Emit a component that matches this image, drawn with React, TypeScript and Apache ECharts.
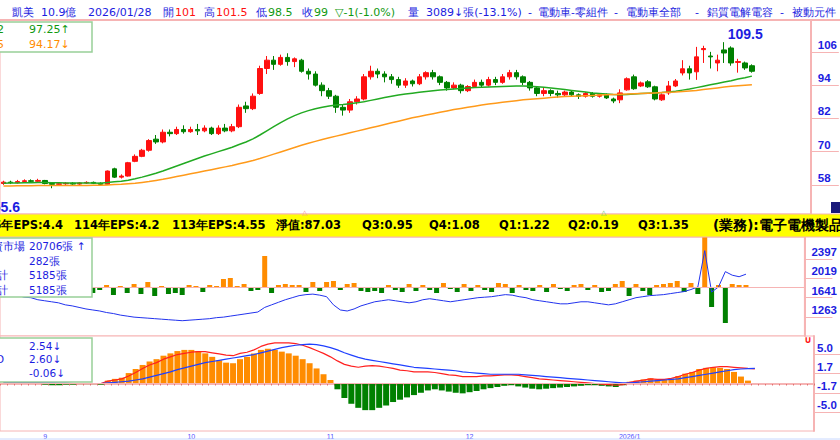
import React, { useEffect, useRef } from "react";
import * as echarts from "echarts";

const dates = [
  "08/22","08/25","08/26","08/27","08/28","08/29",
  "09/01","09/02","09/03","09/04","09/05","09/08","09/09","09/10","09/11","09/12","09/15","09/16","09/17","09/18","09/19","09/22","09/23","09/24","09/25","09/26","09/30",
  "10/01","10/02","10/03","10/07","10/08","10/09","10/13","10/14","10/15","10/16","10/17","10/20","10/21","10/22","10/23","10/27","10/28","10/29","10/30","10/31",
  "11/03","11/04","11/05","11/06","11/07","11/10","11/11","11/12","11/13","11/14","11/17","11/18","11/19","11/20","11/21","11/24","11/25","11/26","11/27","11/28",
  "12/01","12/02","12/03","12/04","12/05","12/08","12/09","12/10","12/11","12/12","12/15","12/16","12/17","12/18","12/19","12/22","12/23","12/24","12/25","12/26","12/29","12/30","12/31",
  "01/02","01/05","01/06","01/07","01/08","01/09","01/12","01/13","01/14","01/15","01/16","01/19","01/20","01/21","01/22","01/23","01/26","01/27","01/28",
];
const blankSlots = ["", "", "", "", "", "", "", ""];
const monthLabels: Record<string, string> = { "09/01": "9", "10/01": "10", "11/03": "11", "12/01": "12", "01/02": "2026/1" };

// [open, close, low, high]
const ohlc = [
  [58.5,59,58,59.5],[59,58.8,58.3,59.5],[58.8,59.2,58.5,59.8],[59.2,59.5,58.8,60],[59.5,59.3,59,60],[59.3,59.6,59,60.2],[59.6,58.5,58.2,59.8],[58.5,58.2,56.8,58.8],[58.2,58.4,57.8,58.8],[58.4,58.6,58,59],
  [58.6,58.3,58,59],[58.3,58.7,58,59],[58.7,58.9,58.4,59.3],[58.9,58.6,58.3,59.2],[58.6,58.2,57.9,58.9],[58.2,63,58,63.2],[63.8,60.8,60.5,64.2],[60.8,61.2,60.3,61.8],[61.2,66,61,66.3],[66.5,68.3,66.2,69],
  [68.3,70.5,68,71],[70.5,74,70,74.5],[74.5,73.5,72.8,76],[73.5,77,73,78],[77,76.5,75.5,78],[76.5,78,76,79],[78,77.2,76.5,79.5],[77.2,78,76.8,79],[78,77.5,76,80],[77.5,78.5,77,79.5],
  [78.5,76.5,76,79],[76.5,78.5,76,79.5],[78.5,77.5,77,80],[77.5,79,77,80],[79,86,78.5,87],[86.5,85.5,84,88],[85.5,90,85,91],[91,100,90.5,101],[100,103,98,104.5],[103,101.5,99.5,104.5],
  [101.5,104,101,105],[104,102.5,101,105.5],[102.5,103.5,100.5,104],[103,99,98.5,103.5],[99,98,96,100],[98,94,93.5,99],[94,92,90,95],[92,90,89,93],[90,86,84,90.5],[86,85,83,87],
  [85,88,84,89],[88,89,87,90],[89,97,88.5,98],[97,99,96,101],[99,98,96.5,100],[98,97,95,99],[97,96,94.5,98],[96,94,93,97],[94,95.5,93,96.5],[95.5,94.5,93.5,96],
  [94.5,97,94,98],[97,98.5,96,99],[98.5,97,96,99.5],[97,95,94,97.5],[95,93,92,95.5],[93,94,92.5,95],[94,92,91,94.5],[92,93.5,91.5,94],[93.5,95,93,96],[95,94,93,96],
  [94,96,93.5,97],[96,95,94,97],[95,97,94.5,98],[97,98.5,96,99.5],[98.5,97,96,99.5],[97,95,94,97.5],[95,93,92,95.5],[93,91,90,93.5],[91,92,90,93],[92,91,90,92.5],
  [91,90.5,89.5,92],[90.5,91.5,90,92],[91.5,90.5,90,92],[90.5,90,89,91],[90,91,89.5,91.5],[91,90,89.5,91.5],[90,90.5,89.5,91],[90.5,89.4,89,91],[89,88.3,87.5,89.5],[88.7,91.2,87.5,92.5],
  [92.3,96.3,92,96.8],[97,92.7,92.3,97.8],[93.7,94.8,93.3,95.3],[95.2,93.4,93,95.8],[93.4,89,88.5,93.8],[88.7,90.5,88.3,91],[91.2,93.7,90.5,95.5],[93.7,95.5,93.3,96.2],[98.4,99.9,97.5,103],[99.9,98.4,96,101],
  [98.8,104.2,95.9,107.8],[106.8,107.2,102,108.2],[104.5,104.2,100,106],[102,103,99,105],[106.7,105.6,102,109.5],[107.4,102,101,108],[102.2,102.5,98.5,103.5],[102,100.2,99.5,102.5],[101,99,98.5,101.5],
];

const maShort = [
  58.6,58.7,58.7,58.8,58.8,58.9,58.9,58.8,58.8,58.7,
  58.7,58.7,58.7,58.7,58.6,58.9,59.1,59.3,59.7,60.2,
  60.8,61.5,62.2,63.0,63.9,64.8,65.7,66.6,67.5,68.4,
  69.2,70.0,70.8,71.6,72.6,73.5,74.6,76.0,77.5,79.0,
  80.5,81.8,83.0,84.0,84.8,85.5,86.0,86.5,86.8,87.0,
  87.3,87.6,88.0,88.5,89.0,89.5,90.0,90.4,90.8,91.1,
  91.4,91.7,92.0,92.2,92.4,92.6,92.8,93.0,93.1,93.2,
  93.3,93.4,93.5,93.6,93.7,93.7,93.6,93.4,93.2,93.0,
  92.7,92.4,92.1,91.8,91.5,91.2,91.0,90.8,90.6,90.5,
  90.6,90.8,91.0,91.1,91.2,91.3,91.5,91.8,92.2,92.6,
  93.1,93.6,94.1,94.6,95.1,95.6,96.2,96.7,97.25,
];
const maLong = [
  57.6,57.6,57.7,57.7,57.7,57.8,57.8,57.8,57.8,57.8,
  57.8,57.8,57.8,57.9,57.9,58.0,58.1,58.2,58.4,58.6,
  58.9,59.2,59.6,60.0,60.5,61.0,61.5,62.0,62.5,63.0,
  63.5,64.0,64.5,65.0,65.6,66.2,66.8,67.5,68.3,69.1,
  69.9,70.7,71.5,72.3,73.0,73.7,74.4,75.0,75.6,76.2,
  76.8,77.4,78.0,78.6,79.2,79.8,80.4,81.0,81.6,82.2,
  82.7,83.2,83.7,84.2,84.7,85.2,85.6,86.0,86.4,86.8,
  87.2,87.5,87.8,88.1,88.4,88.7,88.9,89.1,89.3,89.5,
  89.7,89.9,90.0,90.1,90.2,90.3,90.4,90.5,90.6,90.7,
  90.8,90.9,91.0,91.1,91.2,91.3,91.4,91.5,91.7,91.9,
  92.1,92.4,92.7,93.0,93.3,93.6,93.8,94.0,94.17,
];

const chipBars = [
  1,-3,2,-4,1,-2,-5,2,-3,1,
  -2,2,-4,-6,-3,2,-8,1,-6,3,
  -7,5,-9,1,-7,-6,-8,2,1,-5,
  2,1,8,9,1,3,-4,-3,31,-6,
  2,3,2,2,-5,5,-4,5,6,-3,
  3,4,-4,-5,-4,-6,2,-3,-5,3,
  -4,2,-3,-6,4,-2,-5,3,-4,2,
  -3,-5,4,3,-6,2,-3,-4,2,-5,
  3,-2,-4,2,3,-3,2,-5,-4,3,
  6,-9,3,-4,-8,2,3,4,6,-5,
  4,-7,50,-20,2,-36,3,2,2,
];
const chipLine = [
  1700,1720,1690,1650,1640,1600,1580,1560,1540,1500,
  1480,1450,1420,1400,1380,1350,1330,1300,1280,1260,
  1250,1240,1230,1220,1210,1200,1190,1200,1210,1220,
  1230,1250,1260,1280,1300,1320,1340,1360,1450,1500,
  1550,1600,1640,1680,1700,1710,1690,1660,1500,1400,
  1380,1420,1480,1520,1560,1580,1600,1580,1560,1540,
  1560,1600,1620,1600,1580,1560,1580,1600,1620,1640,
  1650,1660,1680,1700,1690,1660,1640,1600,1580,1560,
  1540,1520,1520,1540,1560,1560,1540,1520,1500,1520,
  1560,1600,1640,1660,1680,1690,1700,1720,1740,1760,
  1800,1850,2560,1750,1850,2150,2080,2050,2100,
];

const macdHist = [
  0,0.1,0.1,0.1,0.1,0.1,-0.2,-0.3,-0.3,-0.2,
  -0.2,-0.1,-0.1,-0.1,-0.2,0.5,0.8,1.0,1.8,2.5,
  3.2,3.8,4.2,4.8,5.2,5.6,5.8,5.8,5.6,5.2,
  4.6,4.0,3.6,3.5,4.2,4.6,5.2,5.8,6.0,5.8,
  5.5,5.2,4.8,4.2,3.5,2.6,1.6,0.6,-1.0,-2.5,
  -3.5,-4.2,-4.6,-4.6,-4.2,-3.8,-3.2,-2.8,-2.4,-2.0,
  -1.6,-1.2,-1.0,-1.2,-1.4,-1.6,-1.7,-1.5,-1.3,-1.0,
  -0.8,-0.6,-0.4,-0.3,-0.5,-0.7,-0.9,-1.0,-0.9,-0.8,
  -0.7,-0.6,-0.5,-0.4,-0.3,-0.3,-0.4,-0.5,-0.6,-0.3,
  0.3,0.5,0.7,0.9,0.7,0.6,0.9,1.3,1.7,2.0,
  2.5,2.7,2.8,2.7,2.5,2.0,1.2,0.5,-0.06,
];
const difLine = [
  0.1,0.1,0.1,0.1,0.1,0.1,0,0,0,0,
  0,0,0,0,0,0.4,0.6,0.8,1.3,1.9,
  2.6,3.2,3.6,4.2,4.6,5.0,5.2,5.4,5.5,5.5,
  5.3,5.1,4.9,4.8,5.2,5.4,5.8,6.4,6.8,7.0,
  7.0,7.0,6.9,6.6,6.2,5.7,5.2,4.6,3.9,3.3,
  3.0,2.8,3.0,3.1,3.0,2.8,2.6,2.3,2.2,2.0,
  2.0,2.0,1.9,1.7,1.5,1.4,1.2,1.2,1.2,1.3,
  1.3,1.4,1.5,1.5,1.4,1.2,1.0,0.8,0.7,0.6,
  0.5,0.4,0.3,0.2,0.1,0,-0.1,-0.2,-0.3,-0.2,
  0.2,0.4,0.6,0.8,0.7,0.7,0.9,1.2,1.6,1.9,
  2.3,2.6,2.8,2.9,2.9,2.8,2.7,2.6,2.54,
];
const deaLine = [
  0.1,0.1,0.1,0.1,0.1,0.1,0.1,0.1,0.05,0.05,
  0,0,0,0,0,0.1,0.2,0.3,0.4,0.6,
  0.8,1.1,1.4,1.7,2.0,2.4,2.7,3.0,3.3,3.6,
  3.8,4.0,4.2,4.4,4.6,4.8,5.0,5.3,5.6,5.9,
  6.2,6.4,6.6,6.7,6.8,6.7,6.5,6.2,5.8,5.3,
  4.9,4.5,4.2,4.0,3.8,3.6,3.4,3.2,3.0,2.8,
  2.7,2.6,2.5,2.4,2.3,2.2,2.0,1.9,1.8,1.7,
  1.6,1.6,1.6,1.6,1.6,1.5,1.4,1.3,1.2,1.1,
  1.0,0.9,0.8,0.7,0.6,0.5,0.4,0.3,0.2,0.1,
  0.1,0.2,0.3,0.4,0.5,0.6,0.7,0.8,1.0,1.2,
  1.4,1.6,1.8,2.0,2.2,2.4,2.5,2.57,2.60,
];

const priceTicks = [58, 70, 82, 94, 106];
const chipTicks = [1263, 1641, 2019, 2397];
const macdTicks = [-5, -1.7, 1.7, 5];

const BLUE = "#1c1ce0";
const RED = "#ff1010";
const GREEN = "#119911";
const ORANGE = "#ff8c00";
const PINK = "#f6b4b4";
const FONT = "DejaVu Sans";

function txt(x: number, y: number, text: string, fill: string, opts: any = {}) {
  return {
    type: "text",
    x,
    y,
    z: 100,
    style: {
      text,
      fill,
      fontSize: opts.size || 11,
      fontFamily: opts.family || FONT,
      fontWeight: opts.weight || "normal",
      align: opts.align || "left",
      verticalAlign: "middle",
    },
  };
}

function rightAxis(gridIndex: number, min: number, max: number, ticks: number[], margin: number, fmt?: (v: number) => string) {
  return {
    type: "value",
    gridIndex,
    position: "right",
    min,
    max,
    splitLine: { show: false },
    axisLine: { show: true, lineStyle: { color: PINK, width: 2 } },
    axisTick: { show: true, customValues: ticks, length: 28, inside: false, lineStyle: { color: PINK } },
    axisLabel: {
      customValues: ticks,
      formatter: fmt || ((v: number) => String(v)),
      color: BLUE,
      fontWeight: "bold",
      fontSize: 11.5,
      fontFamily: "Liberation Sans",
      margin,
      verticalAlign: "bottom",
      padding: [0, 0, 1, 0],
    },
  };
}

export default function App() {
  const ref = useRef<HTMLDivElement>(null);
  useEffect(() => {
    const chart = echarts.init(ref.current!, null, { renderer: "svg" });
    const cats = [...dates, ...blankSlots];
    const gridBase = { left: -2, width: 816, show: true, borderColor: PINK, borderWidth: 1, backgroundColor: "#fff" };
    const xBase = (gridIndex: number, showLabel: boolean) => ({
      type: "category",
      gridIndex,
      data: cats,
      boundaryGap: true,
      axisLine: { show: showLabel, lineStyle: { color: PINK, width: 2 } },
      axisTick: { show: showLabel, interval: 0, length: 2, lineStyle: { color: "#e07070" } },
      axisLabel: {
        show: showLabel,
        interval: (_i: number, v: string) => !!monthLabels[v],
        formatter: (v: string) => monthLabels[v] || "",
        color: "#5050ff",
        fontSize: 7,
        margin: 2,
      },
      splitLine: { show: false },
    });
    const header = [
      ["2375", -2, BLUE, "right"],
      ["凱美", 12, BLUE],
      ["10.9億", 41, BLUE],
      ["2026/01/28", 88, BLUE],
      ["開", 163, BLUE],
      ["101", 175, RED],
      ["高", 204, BLUE],
      ["101.5", 216, RED],
      ["低", 256, BLUE],
      ["98.5", 268, GREEN],
      ["收", 302, BLUE],
      ["99", 314, GREEN],
      ["▽-1(-1.0%)", 335, GREEN],
      ["量", 408, BLUE],
      ["3089↓張(-13.1%)", 426, BLUE],
      ["-", 528, BLUE],
      ["電動車-零組件", 538, BLUE, "left", 10.5],
      ["-", 614, BLUE],
      ["電動車全部", 626, BLUE, "left", 10.5],
      ["-", 695, BLUE],
      ["鋁質電解電容", 707, BLUE, "left", 10.5],
      ["-", 780, BLUE],
      ["被動元件", 792, BLUE, "left", 10.5],
    ] as any[];
    const headerEls = header.map(([t, x, c, a, s]) => txt(x, 12, t, c, { align: a || "left", size: s || 11 }));
    const epsItems = [
      ["114年EPS:4.2", 74],
      ["113年EPS:4.55", 172],
      ["淨值:87.03", 276],
      ["Q3:0.95", 362],
      ["Q4:1.08", 429],
      ["Q1:1.22", 499],
      ["Q2:0.19", 568],
      ["Q3:1.35", 638],
    ] as any[];
    const epsEls = [
      txt(63, 225, "115年EPS:4.4", "#000", { align: "right", weight: "bold", size: 11.5 }),
      ...epsItems.map(([t, x]) => txt(x, 225, t, "#000", { weight: "bold", size: 11.5 })),
      txt(713, 225, "(業務):電子電機製品及其零件", "#000", { weight: "bold", size: 13.5 }),
    ];
    const box = (y: number, h: number) => ({
      type: "rect",
      z: 99,
      shape: { x: -1, y, width: 93, height: h },
      style: { fill: "#fff", stroke: "#98d098", lineWidth: 1.5 },
    });
    const option: any = {
      animation: false,
      backgroundColor: "#fff",
      grid: [
        { ...gridBase, top: 20, height: 194 },
        { ...gridBase, top: 237, height: 99 },
        { ...gridBase, top: 336, height: 96 },
      ],
      xAxis: [xBase(0, false), xBase(1, false), xBase(2, true)],
      yAxis: [
        rightAxis(0, 47.5, 117.5, priceTicks, 7),
        rightAxis(1, 891, 2827, chipTicks, 7),
        { type: "value", gridIndex: 1, min: -49, max: 50, show: false },
        rightAxis(2, -8.2, 8.2, macdTicks, 3, (v: number) => v.toFixed(1)),
      ],
      series: [
        {
          type: "candlestick",
          xAxisIndex: 0,
          yAxisIndex: 0,
          data: ohlc,
          barWidth: 5,
          itemStyle: { color: RED, color0: "#008000", borderColor: RED, borderColor0: "#008000", borderWidth: 1 },
          markPoint: {
            data: [{ type: "max", valueDim: "highest" }],
            symbol: "circle",
            symbolSize: 1,
            itemStyle: { color: "rgba(0,0,0,0)" },
            label: {
              show: true,
              position: "top",
              offset: [21, 4],
              formatter: (p: any) => String(p.value),
              color: BLUE,
              fontWeight: "bold",
              fontSize: 14,
              fontFamily: "Liberation Sans",
            },
          },
        },
        { type: "line", xAxisIndex: 0, yAxisIndex: 0, data: maShort, symbol: "none", lineStyle: { color: "#22aa22", width: 1.5 } },
        { type: "line", xAxisIndex: 0, yAxisIndex: 0, data: maLong, symbol: "none", lineStyle: { color: "#ff9a1a", width: 1.5 } },
        {
          type: "bar",
          xAxisIndex: 1,
          yAxisIndex: 2,
          data: chipBars,
          barWidth: 5,
          itemStyle: { color: (p: any) => (p.value >= 0 ? ORANGE : "#008000") },
          markLine: { silent: true, symbol: "none", label: { show: false }, lineStyle: { color: PINK, type: "solid", width: 1 }, data: [{ yAxis: 0 }] },
        },
        { type: "line", xAxisIndex: 1, yAxisIndex: 1, data: chipLine, symbol: "none", lineStyle: { color: "#2233ee", width: 1 } },
        {
          type: "bar",
          xAxisIndex: 2,
          yAxisIndex: 3,
          data: macdHist,
          barWidth: 6,
          itemStyle: { color: (p: any) => (p.value >= 0 ? ORANGE : "#008000") },
          markLine: { silent: true, symbol: "none", label: { show: false }, lineStyle: { color: PINK, type: "solid", width: 1 }, data: [{ yAxis: 0 }] },
        },
        { type: "line", xAxisIndex: 2, yAxisIndex: 3, data: difLine, symbol: "none", lineStyle: { color: "#ff2020", width: 1.2 } },
        { type: "line", xAxisIndex: 2, yAxisIndex: 3, data: deaLine, symbol: "none", lineStyle: { color: "#2040ff", width: 1.2 } },
      ],
      graphic: [
        { type: "line", z: 90, shape: { x1: 0, y1: 20, x2: 840, y2: 20 }, style: { stroke: PINK, lineWidth: 2 } },
        ...headerEls,
        { type: "rect", z: 95, shape: { x: -1, y: 214, width: 842, height: 23 }, style: { fill: "#ffff00", stroke: PINK, lineWidth: 1 } },
        ...epsEls,
        txt(302, 213, "△", "#f09090", { size: 7 }),
        txt(601, 213, "△", "#60c060", { size: 7 }),
        box(22, 30),
        txt(4, 29, "MA22", GREEN, { align: "right", size: 11 }),
        txt(29, 29, "97.25↑", GREEN, { size: 11 }),
        txt(4, 44, "MA65", ORANGE, { align: "right", size: 11 }),
        txt(29, 44, "94.17↓", ORANGE, { size: 11 }),
        txt(20, 207, "55.6", BLUE, { align: "right", weight: "bold", size: 14, family: "Liberation Sans" }),
        box(238, 59),
        txt(25, 246, "外資市場", BLUE, { align: "right", size: 10.5 }),
        txt(29, 246, "20706張 ↑", BLUE, { size: 10.5 }),
        txt(29, 261, "282張", BLUE, { size: 10.5 }),
        txt(8, 275, "投信合計", BLUE, { align: "right", size: 10.5 }),
        txt(29, 275, "5185張", BLUE, { size: 10.5 }),
        txt(8, 290, "三大合計", BLUE, { align: "right", size: 10.5 }),
        txt(29, 290, "5185張", BLUE, { size: 10.5 }),
        box(338, 44),
        txt(29, 346, "2.54↓", BLUE, { size: 10.5 }),
        txt(4, 359, "MACD", BLUE, { align: "right", size: 10.5 }),
        txt(29, 359, "2.60↓", BLUE, { size: 10.5 }),
        txt(29, 373, "-0.06↓", BLUE, { size: 10.5 }),
        txt(808, 339, "∪", RED, { align: "center", weight: "bold", size: 10 }),
        { type: "rect", z: 100, shape: { x: 831, y: 202, width: 10, height: 11 }, style: { fill: "#1a1a7a" } },
        { type: "line", z: 90, shape: { x1: 0, y1: 439, x2: 840, y2: 439 }, style: { stroke: "#c8d8ff", lineWidth: 1 } },
      ],
    };
    chart.setOption(option);
    return () => chart.dispose();
  }, []);
  return <div ref={ref} style={{ position: "fixed", left: 0, top: 0, width: 840, height: 440 }} />;
}
